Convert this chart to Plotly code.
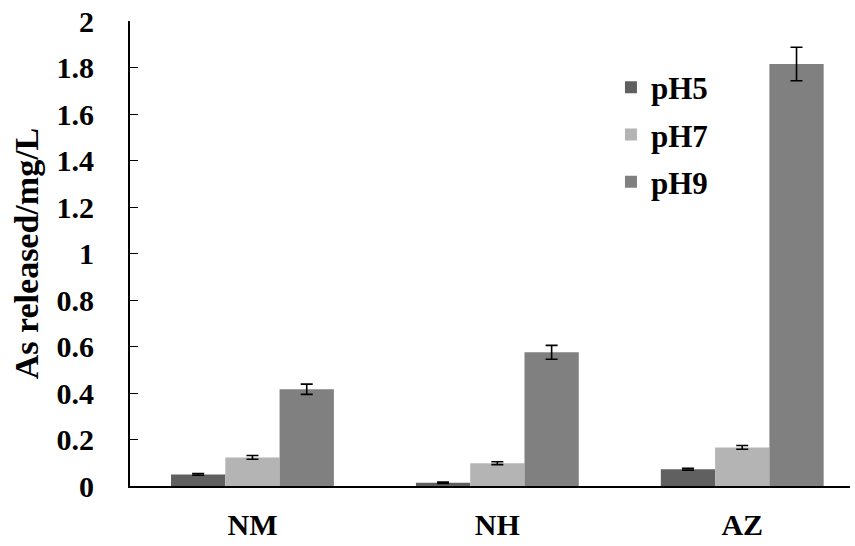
import plotly.graph_objects as go

categories = ["NM", "NH", "AZ"]
series_names = ["pH5", "pH7", "pH9"]
pH5 = [0.050, 0.014, 0.072]
pH7 = [0.123, 0.098, 0.166]
pH9 = [0.416, 0.575, 1.815]
pH5_err = [0.004, 0.003, 0.004]
pH7_err = [0.008, 0.006, 0.008]
pH9_err = [0.022, 0.030, 0.072]
y_ticks = [0, 0.2, 0.4, 0.6, 0.8, 1, 1.2, 1.4, 1.6, 1.8, 2]
y_tick_labels = ["0", "0.2", "0.4", "0.6", "0.8", "1", "1.2", "1.4", "1.6", "1.8", "2"]

colors = ["#606060", "#b4b4b4", "#808080"]
font_family = "Liberation Serif"

fig = go.Figure()
for name, vals, errs, col in zip(series_names, [pH5, pH7, pH9], [pH5_err, pH7_err, pH9_err], colors):
    fig.add_trace(go.Bar(
        x=categories, y=vals, name=name,
        marker=dict(color=col, line=dict(width=0)),
        error_y=dict(type="data", array=errs, color="black", thickness=1.6, width=6),
        legendgroup=name,
    ))

fig.update_layout(
    width=855, height=546,
    margin=dict(l=130, r=5, t=21, b=60),
    paper_bgcolor="white", plot_bgcolor="white",
    barmode="group", bargap=0.335, bargroupgap=0,
    font=dict(family=font_family, size=30, color="black", weight="bold"),
    showlegend=True,
    legend=dict(x=0.668, y=0.915, xanchor="left", yanchor="top",
                font=dict(family=font_family, size=31, color="black", weight="bold"),
                tracegroupgap=4, bgcolor="rgba(0,0,0,0)", itemwidth=30),
    xaxis=dict(showline=True, linecolor="black", linewidth=2, ticks="",
               range=[-0.5, 2.44],
               tickfont=dict(family=font_family, size=30, weight="bold"),
               ticklabelstandoff=11, showgrid=False, zeroline=False,
               automargin=False),
    yaxis=dict(range=[0, 2], tickvals=y_ticks, ticktext=y_tick_labels,
               showline=True, linecolor="black", linewidth=2,
               ticks="inside", ticklen=8, tickwidth=1.2, tickcolor="black",
               ticklabelstandoff=28, showgrid=False, zeroline=False,
               automargin=False,
               tickfont=dict(family=font_family, size=30, weight="bold"),
               title=dict(text="As released/mg/L", standoff=8,
                          font=dict(family=font_family, size=34, weight="bold"))),
)

fig.write_html("out.html", config={"displayModeBar": False},
               post_script="document.body.style.margin='0';")
